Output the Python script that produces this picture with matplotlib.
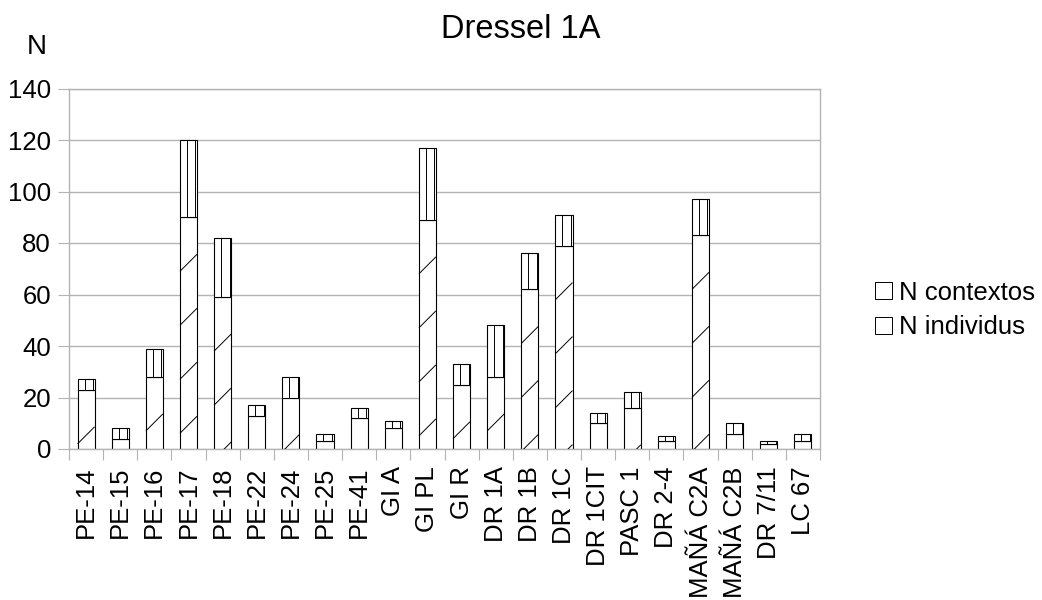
import numpy as np
import matplotlib as mpl
mpl.use('Agg')
import matplotlib.pyplot as plt
from matplotlib.patches import Patch
from matplotlib.collections import LineCollection
from matplotlib.transforms import IdentityTransform

plt.rcParams['font.family'] = ['Liberation Sans', 'DejaVu Sans']

categories = ["PE-14", "PE-15", "PE-16", "PE-17", "PE-18", "PE-22", "PE-24", "PE-25",
              "PE-41", "GI A", "GI PL", "GI R", "DR 1A", "DR 1B", "DR 1C", "DR 1CIT",
              "PASC 1", "DR 2-4", "MAÑÁ C2A", "MAÑÁ C2B", "DR 7/11", "LC 67"]
n_individus = [23, 4, 28, 90, 59, 13, 20, 3, 12, 8, 89, 25, 28, 62, 79, 10, 16, 3, 83, 6, 2, 3]
n_contextos = [4, 4, 11, 30, 23, 4, 8, 3, 4, 3, 28, 8, 20, 14, 12, 4, 6, 2, 14, 4, 1, 3]
yticks = [0, 20, 40, 60, 80, 100, 120, 140]

grid_col = '#b3b3b3'
fs = 18.5

W, H = 1042, 600
fig = plt.figure(figsize=(W / 100, H / 100), dpi=100)
ax = fig.add_axes([69 / W, 1 - 449 / H, (820 - 69) / W, (449 - 88.5) / H])

x = np.arange(len(categories))
ax.set_xlim(-0.5, len(categories) - 0.5)
ax.set_ylim(0, 140)

bars_bot = ax.bar(x, n_individus, width=0.5, color='white', edgecolor='black', linewidth=0.8, zorder=2)
bars_top = ax.bar(x, n_contextos, width=0.5, bottom=n_individus, color='white', edgecolor='black',
                  linewidth=0.8, zorder=2)


def bar_px(bar):
    (x0, y0), (x1, y1) = ax.transData.transform(
        [[bar.get_x(), bar.get_y()], [bar.get_x() + bar.get_width(), bar.get_y() + bar.get_height()]])
    return x0, y0, x1, y1


# sparse "/" hatch anchored at the top of each lower segment
for bar in bars_bot:
    x0, y0, x1, y1 = bar_px(bar)
    w = x1 - x0
    segs = []
    y = y1 - 37
    while y > y0:
        segs.append([(x0, y - w), (x1, y)])
        y -= 54
    if segs:
        lc = LineCollection(segs, colors='black', linewidths=0.7, transform=IdentityTransform(), zorder=3)
        lc.set_clip_path(bar)
        ax.add_collection(lc)

# vertical hatch in upper segments
for bar in bars_top:
    x0, y0, x1, y1 = bar_px(bar)
    segs = [[(x0 + 7, y0), (x0 + 7, y1)], [(x0 + 15.5, y0), (x0 + 15.5, y1)]]
    lc = LineCollection(segs, colors='black', linewidths=0.7, transform=IdentityTransform(), zorder=3)
    lc.set_clip_path(bar)
    ax.add_collection(lc)

ax.set_yticks(yticks)
ax.set_yticklabels([str(v) for v in yticks], fontsize=fs)
ax.tick_params(axis='y', length=8, color=grid_col, pad=5)
ax.yaxis.grid(True, color=grid_col, linewidth=1)
ax.set_axisbelow(True)

ax.set_xticks(np.arange(-0.5, len(categories), 1))
ax.set_xticklabels([])
ax.tick_params(axis='x', which='major', length=8, color=grid_col)
ax.set_xticks(x, minor=True)
ax.set_xticklabels(categories, minor=True, rotation=90, fontsize=fs)
ax.tick_params(axis='x', which='minor', length=0, pad=12.5)

for sp in ax.spines.values():
    sp.set_color(grid_col)
    sp.set_linewidth(1)

fig.text(0.5, 1 - 30 / H, 'Dressel 1A', ha='center', va='center', fontsize=23.5)
fig.text(37 / W, 1 - 47 / H, 'N', ha='center', va='center', fontsize=20)

handles = [Patch(facecolor='white', edgecolor='black', linewidth=0.7),
           Patch(facecolor='white', edgecolor='black', linewidth=0.7)]
fig.legend(handles, ['N contextos', 'N individus'], loc='center left',
           bbox_to_anchor=(875 / W, 1 - 310 / H), frameon=False, borderpad=0, borderaxespad=0,
           fontsize=fs, handlelength=0.65, handleheight=0.65, handletextpad=0.3, labelspacing=0.4)

fig.savefig('out.png', dpi=100)
